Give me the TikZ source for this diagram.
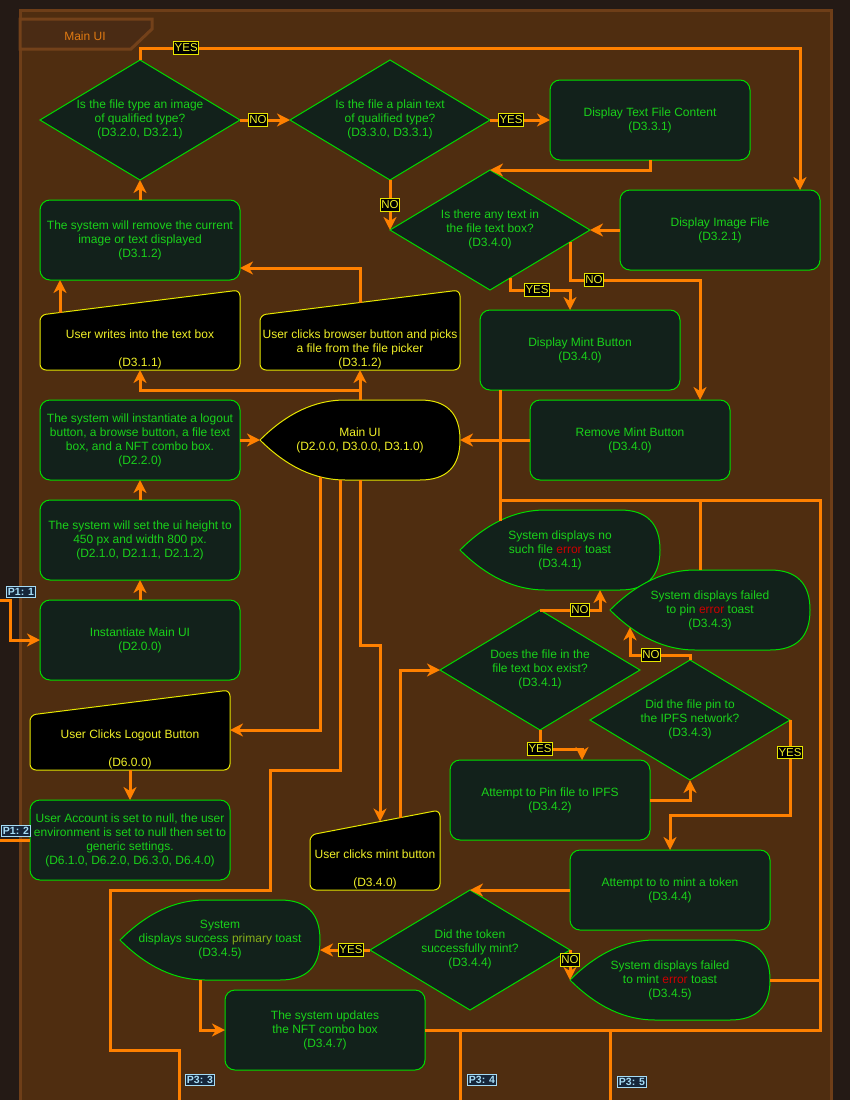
\documentclass[tikz,border=0pt]{standalone}
\usepackage{fontspec}
\setmainfont{Liberation Sans}
\usetikzlibrary{arrows.meta,shapes.geometric}

\definecolor{outerbg}{HTML}{241A15}
\definecolor{poolbg}{HTML}{4F2D10}
\definecolor{pooledge}{HTML}{6E3E18}
\definecolor{tabedge}{HTML}{73411A}
\definecolor{tabfill}{HTML}{4A2B14}
\definecolor{tabtext}{HTML}{E07A12}
\definecolor{boxfill}{HTML}{12211B}
\definecolor{greenline}{HTML}{00DD00}
\definecolor{greentext}{HTML}{1AD21A}
\definecolor{yellowline}{HTML}{E6E600}
\definecolor{yellowtext}{HTML}{F0F028}
\definecolor{flow}{HTML}{FF8000}
\definecolor{errred}{HTML}{CC0000}
\definecolor{primgreen}{HTML}{86B01A}
\definecolor{portfill}{HTML}{16263A}
\definecolor{portline}{HTML}{A6DCF5}

% stacked centred lines
\newcommand\mlines[1]{\begin{tabular}{@{}c@{}}#1\end{tabular}}
% text of a decision: no width of its own, so the diamond keeps its set size
\newcommand\dialines[1]{\makebox[0pt]{\mlines{#1}}}
% text of a manual input: sits in the lower part of the shape
\newcommand\inlines[1]{\raisebox{-22.5pt}[0pt][0pt]{\mlines{#1}}}

% display (toast) outline centred at (#1,#2), 200 x 80
\newcommand\displayshape[3]{%
  \path[#3, shift={(#1,#2)}] (-100,0) .. controls (-73.3,-26.7) and (-45,-40) .. (-15,-40)
    -- (60,-40) .. controls (86.7,-40) and (100,-26.7) .. (100,0)
    .. controls (100,26.7) and (86.7,40) .. (60,40) -- (-15,40)
    .. controls (-45,40) and (-73.3,26.7) .. (-100,0) -- cycle;}
% manual input outline: left #1, top #2, width #3, height 80
\newcommand\manualshape[3]{%
  \path[inputline] ({#1+#3/2},{#2+80}) -- (#1,{#2+80}) -- (#1,{#2+25})
    -- ({#1+#3},#2) -- ({#1+#3},{#2+80}) -- cycle;}

\tikzset{
  txt/.style={font=\fontsize{12}{14}\selectfont},
  proc/.style={txt, rectangle, rounded corners=10pt, draw=greenline, fill=boxfill,
    text=greentext, line width=1pt, minimum width=200pt, minimum height=80pt,
    inner sep=0pt, outer sep=0pt, align=center},
  dec/.style={txt, diamond, draw=greenline, fill=boxfill, text=greentext,
    line width=1pt, minimum width=200pt, minimum height=120pt,
    inner sep=0pt, outer sep=0pt},
  area/.style={txt, rectangle, minimum width=200pt, minimum height=80pt,
    inner sep=0pt, outer sep=0pt, align=center},
  inarea/.style={txt, rectangle, minimum width=200pt, minimum height=80pt,
    inner sep=0pt, outer sep=0pt, text=yellowtext},
  toastline/.style={draw=greenline, fill=boxfill, line width=1pt},
  uiline/.style={draw=yellowline, fill=black, line width=1pt},
  inputline/.style={uiline, rounded corners=6pt},
  flowto/.style={draw=flow, line width=3pt,
    -{Stealth[length=13pt,width=13pt,inset=4pt]}},
  bus/.style={draw=flow, line width=3pt},
  lab/.style={fill=black, draw=yellowline, line width=1pt, text=yellowtext,
    font=\fontsize{11.5}{12}\selectfont, inner xsep=1pt, inner ysep=2.2pt},
  port/.style={fill=portfill, draw=portline, line width=1pt, text=portline,
    font=\bfseries\fontsize{10.5}{12}\selectfont, inner xsep=1.5pt, inner ysep=2.2pt},
}

\begin{document}
\begin{tikzpicture}[x=1pt,y=-1pt]
\useasboundingbox (0,0) rectangle (850,1100);
\clip (0,0) rectangle (850,1100);

% swimlane
\fill[outerbg] (0,0) rectangle (850,1100);
\draw[pooledge, fill=poolbg, line width=3pt] (20,10) rectangle (831,1130);
\path[draw=tabedge, fill=tabfill, line width=3pt]
  (20,19) -- (152,19) -- (152,29) -- (131,49) -- (20,49) -- cycle;
\node[txt, text=tabtext] (pooltitle) at (85,36) {Main UI};

% shapes
\node[dec] (q1) at (140,120) {\dialines{Is the file type an image\\of qualified type?\\(D3.2.0, D3.2.1)}};
\node[dec] (q2) at (390,120) {\dialines{Is the file a plain text\\of qualified type?\\(D3.3.0, D3.3.1)}};
\node[proc] (txt) at (650,120) {Display Text File Content\\(D3.3.1)};
\node[proc] (img) at (720,230) {Display Image File\\(D3.2.1)};
\node[dec] (q3) at (490,230) {\dialines{Is there any text in\\the file text box?\\(D3.4.0)}};
\node[proc] (rem) at (140,240) {The system will remove the current\\image or text displayed\\(D3.1.2)};

\manualshape{40}{290}{200}
\node[inarea] (w1) at (140,330) {\inlines{User writes into the text box\\ \\(D3.1.1)}};
\manualshape{260}{290}{200}
\node[inarea] (br) at (360,330) {\inlines{User clicks browser button and picks\\a file from the file picker\\(D3.1.2)}};

\node[proc] (dmb) at (580,350) {Display Mint Button\\(D3.4.0)};
\node[proc] (rmb) at (630,440) {Remove Mint Button\\(D3.4.0)};
\node[proc] (inst) at (140,440) {The system will instantiate a logout\\button, a browse button, a file text\\box, and a NFT combo box.\\(D2.2.0)};

\displayshape{360}{440}{uiline}
\node[area, text=yellowtext] (mainui) at (360,440) {Main UI\\(D2.0.0, D3.0.0, D3.1.0)};

\node[proc] (setui) at (140,540) {The system will set the ui height to\\450 px and width 800 px.\\(D2.1.0, D2.1.1, D2.1.2)};

\displayshape{560}{550}{toastline}
\node[area, text=greentext] (t1) at (560,550) {System displays no\\such file {\color{errred}error} toast\\(D3.4.1)};
\displayshape{710}{610}{toastline}
\node[area, text=greentext] (t2) at (710,610) {System displays failed\\to pin {\color{errred}error} toast\\(D3.4.3)};

\node[proc] (imui) at (140,640) {Instantiate Main UI\\(D2.0.0)};
\node[dec] (q4) at (540,670) {\dialines{Does the file in the\\file text box exist?\\(D3.4.1)}};
\node[dec] (q5) at (690,720) {\dialines{Did the file pin to\\the IPFS network?\\(D3.4.3)}};

\manualshape{30}{690}{200}
\node[inarea] (lo) at (130,730) {\inlines{User Clicks Logout Button\\ \\(D6.0.0)}};

\node[proc] (pin) at (550,800) {Attempt to Pin file to IPFS\\(D3.4.2)};
\node[proc] (acct) at (130,840) {User Account is set to null, the user\\environment is set to null then set to\\generic settings.\\(D6.1.0, D6.2.0, D6.3.0, D6.4.0)};

\manualshape{310}{810}{130}
\node[inarea, minimum width=130pt] (mb) at (375,850) {\inlines{User clicks mint button\\ \\(D3.4.0)}};

\node[proc] (mint) at (670,890) {Attempt to to mint a token\\(D3.4.4)};
\node[dec] (q6) at (470,950) {\dialines{Did the token\\successfully mint?\\(D3.4.4)}};

\displayshape{220}{940}{toastline}
\node[area, text=greentext] (s1) at (220,940) {System\\displays success {\color{primgreen}primary} toast\\(D3.4.5)};
\displayshape{670}{980}{toastline}
\node[area, text=greentext] (t4) at (670,980) {System displays failed\\to mint {\color{errred}error} toast\\(D3.4.5)};

\node[proc] (nft) at (325,1030) {The system updates\\the NFT combo box\\(D3.4.7)};

% flows
\draw[flowto] (q1.north) -- ++(0,-12) -| node[lab, pos=0.035] (l1) {YES} ([xshift=80pt]img.north);
\draw[flowto] (q1.east) -- node[lab, pos=0.36] (l2) {NO} (q2.west);
\draw[flowto] (q2.east) -- node[lab, pos=0.35] (l3) {YES} (txt.west);
\draw[flowto] (q2.south) -- node[lab] (l4) {NO} (q3.west);
\draw[flowto] (txt.south) |- (q3.north);
\draw[flowto] (img.west) -- (q3.east);
\draw[flowto] ([xshift=20pt,yshift=12pt]q3.south) -- ++(0,12) -| node[lab, pos=0.225] (l5) {YES} ([xshift=-10pt]dmb.north);
\draw[flowto] ([xshift=80pt,yshift=48pt]q3.south) -- ++(0,38) -| node[lab, pos=0.092] (l6) {NO} ([xshift=70pt]rmb.north);
\draw[flowto] ([xshift=-80pt,yshift=-22.5pt]w1.north) -- ([xshift=-80pt]rem.south);
\draw[flowto] ([yshift=-12.5pt]br.north) |- ([yshift=-28pt]rem.east);
\draw[flowto] (rem.north) -- (q1.south);
\draw[flowto] (mainui.north) -- ++(0,-10) -| (w1.south);
\draw[flowto] (mainui.north) -- (br.south);
\draw[flowto] (inst.east) -- (mainui.west);
\draw[flowto] (rmb.west) -- (mainui.east);
\draw[flowto] (setui.north) -- (inst.south);
\draw[flowto] (imui.north) -- (setui.south);

\coordinate (in1) at (0,600);
\draw[flowto] (in1) -- ++(10,0) |- (imui.west);
\coordinate (in2) at (0,840);
\draw[bus] (in2) -- (acct.west);

\draw[flowto] ([xshift=-40pt,yshift=3.2pt]mainui.south) |- (lo.east);
\coordinate (out3) at (179,1100);
\draw[bus] ([xshift=-20pt]mainui.south) |- (270,770) |- (110,890) |- (179,1050) -- (out3);
\draw[flowto] (mainui.south) -- ++(0,165) -| ([xshift=5pt,yshift=-11.5pt]mb.north);
\draw[flowto] ([xshift=25pt,yshift=-7.7pt]mb.north) |- (q4.west);
\draw[flowto] (lo.south) -- (acct.north);

\draw[flowto] (q4.north) -| node[lab, pos=0.333] (l7) {NO} ([xshift=40pt]t1.south);
\draw[flowto] (q4.south) -- node[lab, pos=1] (l8) {YES} ++(0,19) -| ([xshift=32pt]pin.north);
\draw[flowto] (pin.east) -| (q5.south);
\draw[flowto] (q5.north) -- ++(0,-5) -| node[lab, pos=0.325] (l9) {NO} ([xshift=-80pt,yshift=22.7pt]t2.south);
\draw[flowto] (q5.east) -- node[lab, pos=0.34] (l10) {YES} ++(0,95) -| (mint.north);
\draw[flowto] (mint.west) -- (q6.north);
\draw[flowto] (q6.west) -- node[lab, pos=0.38] (l11) {YES} ([yshift=-10pt]s1.east);
\draw[flowto] (q6.east) -- node[lab, pos=0.33] (l12) {NO} (t4.west);
\draw[flowto] ([xshift=-20pt]s1.south) |- (nft.west);

% return bus
\draw[bus] ([xshift=-80pt]dmb.south) -- ([xshift=-60pt,yshift=-10.6pt]t1.north);
\coordinate (j1) at (500,500);
\draw[bus] (j1) -| (820,1030) -- (nft.east);
\draw[bus] (700,500) -- ([xshift=-10pt]t2.north);
\draw[bus] (t4.east) -- (820,980);
\coordinate (out4) at (460,1100);
\coordinate (out5) at (610,1100);
\draw[bus] (460,1030) -- (out4);
\draw[bus] (610,1030) -- (out5);

% off-page ports
\node[port] (p1) at (21,592) {P1: 1};
\node[port] (p2) at (16,831) {P1: 2};
\node[port] (p3) at (200,1080) {P3: 3};
\node[port] (p4) at (482,1080) {P3: 4};
\node[port] (p5) at (632,1082) {P3: 5};
\end{tikzpicture}
\end{document}
